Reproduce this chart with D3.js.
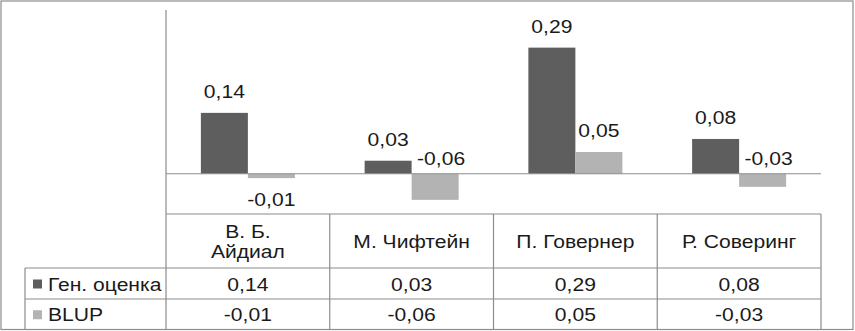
<!DOCTYPE html>
<html>
<head>
<meta charset="utf-8">
<script src="https://cdn.jsdelivr.net/npm/d3@7"></script>
<style>
  html, body { margin: 0; padding: 0; background: #fff; }
  svg { display: block; }
  text { font-family: "Liberation Sans", Arial, sans-serif; fill: #1a1a1a; }
</style>
</head>
<body>
<svg id="chart" width="855" height="331"></svg>
<script>
// ---- data ----
const categories = [["В. Б.", "Айдиал"], ["М. Чифтейн"], ["П. Говернер"], ["Р. Соверинг"]];
const seriesNames = ["Ген. оценка", "BLUP"];
const genValues = [0.14, 0.03, 0.29, 0.08];
const blupValues = [-0.01, -0.06, 0.05, -0.03];
const seriesColors = ["#5e5e5e", "#b3b3b3"];

const fmt = v => d3.format(".2f")(v).replace(".", ",").replace("−", "-");
const seriesValues = [genValues, blupValues];
const catKeys = categories.map(c => c.join(" "));

// ---- layout ----
const svg = d3.select("#chart");
const W = 855, H = 331;
const plotL = 166, plotR = 821, plotT = 10, tableT = 214;
const rowH = [268, 299, 329.5];
const legendL = 25;
const lineColor = "#8c8c8c";
const fs = 18.5, sx = 1.14;

const x = d3.scaleBand().domain(catKeys).range([plotL, plotR]).padding(0);
const xs = d3.scaleBand().domain(seriesNames).range([0, x.bandwidth()]).paddingInner(0).paddingOuter(0.742);
const y = d3.scaleLinear().domain([-0.0925, 0.3765]).range([tableT, plotT]);

function txt(g, tx, ty, s, anchor) {
  return g.append("text")
    .attr("transform", `translate(${tx},${ty}) scale(${sx},1)`)
    .attr("text-anchor", anchor || "middle")
    .attr("font-size", fs)
    .text(s);
}

// outer frame
svg.append("rect").attr("x", 1).attr("y", 1).attr("width", W - 3).attr("height", H - 2.5)
  .attr("fill", "none").attr("stroke", lineColor).attr("stroke-width", 1.2);

// bars
const gBars = svg.append("g");
seriesNames.forEach((s, si) => {
  gBars.selectAll(null).data(seriesValues[si]).enter().append("rect")
    .attr("x", (d, i) => x(catKeys[i]) + xs(s))
    .attr("width", xs.bandwidth())
    .attr("y", d => Math.min(y(d), y(0)))
    .attr("height", d => Math.abs(y(d) - y(0)))
    .attr("fill", seriesColors[si]);
});

// axis lines
svg.append("line").attr("x1", plotL).attr("x2", plotR).attr("y1", y(0)).attr("y2", y(0))
  .attr("stroke", lineColor).attr("stroke-width", 1.2);
svg.append("line").attr("x1", plotL).attr("x2", plotL).attr("y1", plotT).attr("y2", rowH[2])
  .attr("stroke", lineColor).attr("stroke-width", 1.2);

// data labels
const gLab = svg.append("g");
const labelH = 28;
seriesNames.forEach((s, si) => {
  seriesValues[si].forEach((v, i) => {
    const cx = x(catKeys[i]) + xs(s) + xs.bandwidth() / 2;
    if (v >= 0) {
      txt(gLab, cx, y(v) - 15, fmt(v));
    } else if (y(v) + labelH < tableT) {
      txt(gLab, cx, y(v) + labelH, fmt(v));
    } else {
      txt(gLab, cx + 6, y(0) - 8.5, fmt(v));
    }
  });
});

// data table
const gT = svg.append("g");
const hl = (x1, x2, yy) => gT.append("line").attr("x1", x1).attr("x2", x2).attr("y1", yy).attr("y2", yy)
  .attr("stroke", lineColor).attr("stroke-width", 1.2);
const vl = (xx, y1, y2) => gT.append("line").attr("x1", xx).attr("x2", xx).attr("y1", y1).attr("y2", y2)
  .attr("stroke", lineColor).attr("stroke-width", 1.2);
hl(plotL, plotR, tableT);
hl(legendL, plotR, rowH[0]);
hl(legendL, plotR, rowH[1]);
hl(legendL, plotR, rowH[2]);
vl(legendL, rowH[0], rowH[2]);
catKeys.forEach(k => vl(x(k) + x.bandwidth(), tableT, rowH[2]));

// header
categories.forEach((lines, i) => {
  const cx = x(catKeys[i]) + x.bandwidth() / 2;
  const mid = (tableT + rowH[0]) / 2;
  const lh = 20;
  lines.forEach((ln, j) => {
    const by = mid + 6.8 + (j - (lines.length - 1) / 2) * lh;
    txt(gT, cx, by, ln);
  });
});

// rows
seriesNames.forEach((s, si) => {
  const top = rowH[si], bot = rowH[si + 1], mid = (top + bot) / 2;
  gT.append("rect").attr("x", 33).attr("y", mid - 4).attr("width", 9).attr("height", 9)
    .attr("fill", seriesColors[si]);
  txt(gT, 48, mid + 7, s, "start");
  seriesValues[si].forEach((v, i) => {
    txt(gT, x(catKeys[i]) + x.bandwidth() / 2, mid + 7, fmt(v));
  });
});
</script>
</body>
</html>
